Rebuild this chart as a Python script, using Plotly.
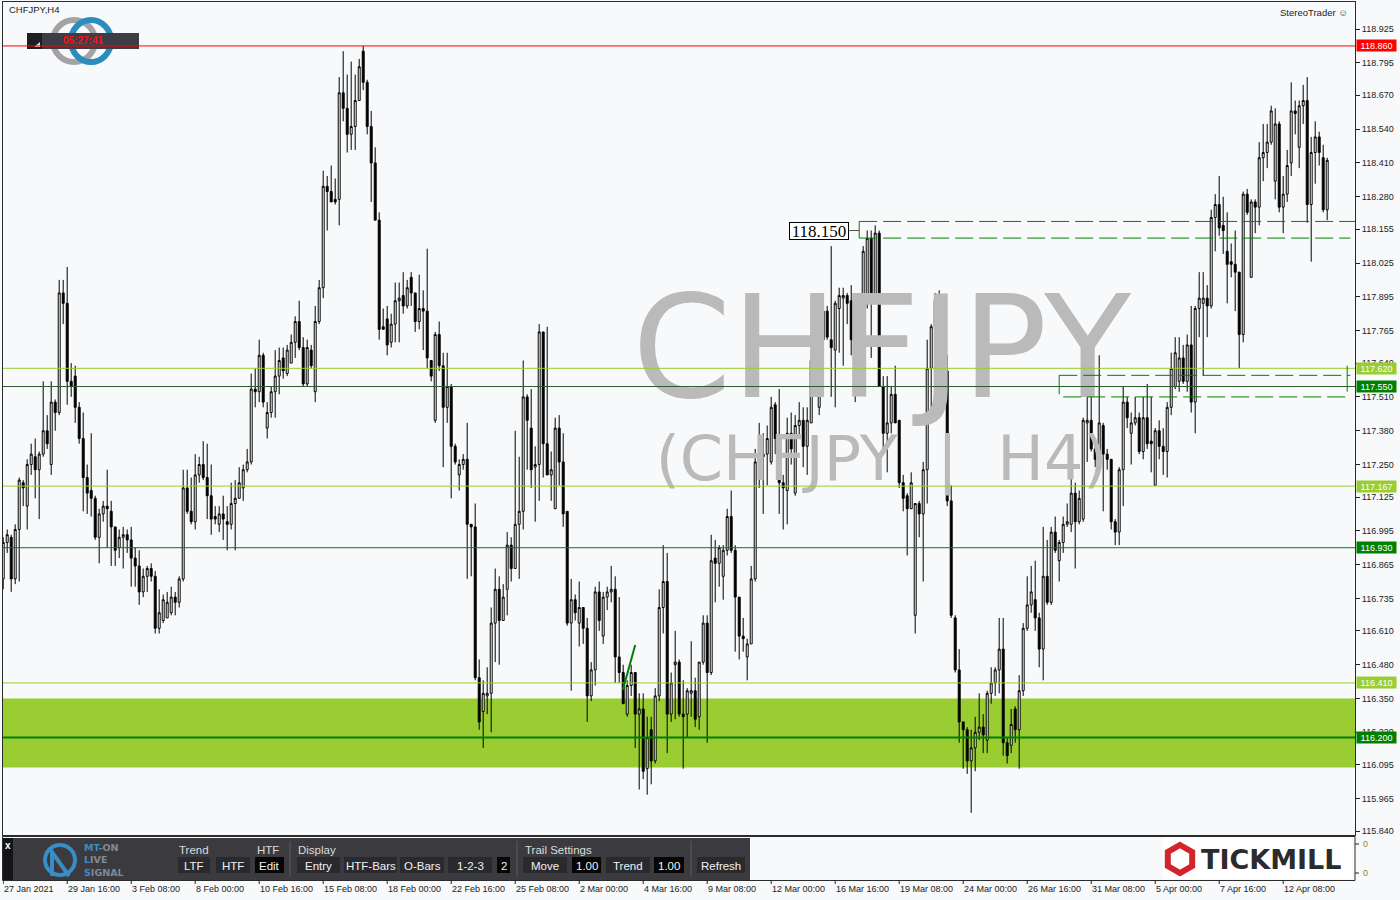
import plotly.graph_objects as go

# ---------------- data (CHFJPY, H4) ----------------
opens = [
116.81,116.95,116.97,116.81,117.00,117.18,117.09,117.25,117.28,117.23,
117.29,117.38,117.25,117.49,117.45,117.91,117.87,117.57,117.59,117.47,
117.35,117.20,117.15,117.12,116.97,117.06,117.09,117.07,117.01,116.93,
116.97,116.98,116.96,116.89,116.86,116.76,116.82,116.85,116.82,116.62,
116.65,116.66,116.68,116.74,116.72,116.81,117.16,117.07,117.03,117.21,
117.25,117.20,117.13,117.05,117.02,117.06,117.03,117.02,117.10,117.12,
117.16,117.23,117.26,117.54,117.53,117.67,117.39,117.45,117.53,117.59,
117.66,117.60,117.64,117.72,117.80,117.70,117.56,117.69,117.53,117.80,
117.93,118.32,118.30,118.27,118.27,118.68,118.62,118.52,118.55,118.65,
118.84,118.72,118.55,118.41,118.19,117.78,117.81,117.72,117.79,117.88,
117.90,117.86,117.97,117.91,117.80,117.85,117.84,117.65,117.42,117.75,
117.63,117.47,117.55,117.32,117.21,117.25,117.27,117.02,117.01,116.43,
116.30,116.36,116.37,116.64,116.77,116.65,116.77,116.94,116.85,117.02,
117.07,117.51,117.39,117.24,117.25,117.76,117.33,117.21,117.08,117.39,
117.26,117.07,116.64,116.73,116.64,116.70,116.62,116.36,116.46,116.76,
116.59,116.74,116.76,116.77,116.51,116.45,116.29,116.40,116.45,116.29,
116.31,116.08,116.23,116.11,116.36,116.70,116.80,116.29,116.48,116.49,
116.29,116.29,116.37,116.38,116.28,116.49,116.64,116.45,116.89,116.87,
116.82,116.92,117.05,116.92,116.74,116.59,116.51,116.56,116.81,117.26,
117.28,117.29,117.26,117.48,117.35,117.18,117.15,117.37,117.14,117.40,
117.42,117.32,117.41,117.64,117.47,117.73,117.84,117.73,117.69,117.85,
117.89,117.90,117.88,117.73,117.66,117.72,117.90,118.12,117.89,118.14,
117.55,117.37,117.41,117.52,117.42,117.18,117.13,117.08,116.67,117.10,
117.06,117.23,117.62,117.78,117.87,117.76,117.61,117.11,116.66,116.46,
116.26,116.23,116.11,116.16,116.22,116.24,116.19,116.37,116.41,116.46,
116.54,116.18,116.17,116.31,116.23,116.38,116.62,116.71,116.73,116.66,
116.54,116.82,116.72,116.99,116.88,116.95,117.02,117.02,117.14,117.03,
117.04,117.41,117.42,117.31,117.27,117.40,117.29,117.27,117.03,116.99,
117.23,117.49,117.37,117.41,117.43,117.30,117.43,117.34,117.17,117.38,
117.32,117.30,117.47,117.55,117.57,117.66,117.57,117.71,117.49,117.85,
117.87,117.89,117.86,118.20,118.25,118.17,118.07,118.03,118.02,117.99,
117.75,118.29,117.97,118.26,118.24,118.43,118.45,118.49,118.34,118.56,
118.24,118.29,118.41,118.61,118.47,118.63,118.65,118.25,118.45,118.51,
118.43,118.23]

highs = [
116.97,117.00,116.98,117.02,117.20,117.19,117.27,117.33,117.35,117.30,
117.57,117.44,117.57,117.50,117.96,117.96,118.01,117.64,117.63,117.49,
117.45,117.25,117.37,117.13,117.08,117.11,117.23,117.11,117.01,117.00,
117.01,117.00,117.01,116.93,116.92,116.85,116.86,116.87,116.84,116.77,
116.75,116.76,116.78,116.76,116.82,117.23,117.23,117.20,117.29,117.28,
117.34,117.33,117.25,117.09,117.09,117.13,117.09,117.18,117.19,117.24,
117.25,117.31,117.60,117.62,117.73,117.68,117.49,117.55,117.69,117.70,
117.70,117.71,117.75,117.82,117.88,117.74,117.73,117.71,117.86,117.96,
118.38,118.36,118.40,118.35,118.74,118.84,118.75,118.80,118.75,118.81,
118.86,118.73,118.61,118.47,118.22,117.85,117.86,117.83,117.95,117.95,
117.99,117.96,117.99,117.91,117.98,117.92,118.08,117.65,117.76,117.80,
117.68,117.68,117.56,117.33,117.27,117.29,117.41,117.02,117.10,116.50,
116.42,116.47,116.70,116.85,116.82,116.79,116.99,116.97,117.38,117.28,
117.65,117.52,117.54,117.32,117.79,117.76,117.78,117.30,117.43,117.44,
117.37,117.07,116.81,116.75,116.80,116.70,116.66,116.49,116.78,116.80,
116.76,116.78,116.86,116.82,116.74,116.48,116.42,116.48,116.45,116.37,
116.37,116.28,116.28,116.39,116.77,116.94,116.91,116.45,116.61,116.50,
116.42,116.39,116.57,116.43,116.49,116.67,116.67,116.98,116.96,116.94,
116.94,117.08,117.15,116.94,116.74,116.66,116.58,116.86,117.31,117.41,
117.37,117.40,117.51,117.49,117.54,117.21,117.43,117.45,117.44,117.49,
117.47,117.47,117.67,117.69,117.75,117.85,117.86,118.09,117.88,117.93,
117.93,117.91,117.94,117.78,117.85,118.09,118.15,118.15,118.17,118.15,
117.59,117.59,117.55,117.63,117.42,117.21,117.14,117.22,117.10,117.11,
117.26,117.73,117.79,117.91,117.92,117.77,117.67,117.17,116.67,116.54,
116.26,116.24,116.23,116.28,116.37,116.29,116.38,116.47,116.47,116.66,
116.66,116.20,116.31,116.32,116.44,116.64,116.82,116.86,116.88,116.68,
117.01,116.96,117.01,117.05,116.96,117.05,117.10,117.21,117.18,117.15,
117.43,117.51,117.56,117.33,117.67,117.41,117.31,117.27,117.04,117.24,
117.55,117.51,117.45,117.51,117.45,117.51,117.56,117.51,117.39,117.42,
117.39,117.49,117.68,117.74,117.74,117.71,117.75,117.86,117.86,117.99,
117.99,117.94,118.23,118.29,118.36,118.28,118.22,118.10,118.15,117.99,
118.30,118.31,118.27,118.27,118.49,118.56,118.56,118.63,118.62,118.57,
118.36,118.46,118.72,118.65,118.65,118.71,118.74,118.51,118.57,118.53,
118.48,118.43]

lows = [
116.77,116.91,116.76,116.79,116.80,117.09,117.00,117.21,117.12,117.04,
117.28,117.31,117.21,117.38,117.44,117.79,117.48,117.51,117.41,117.33,
117.07,117.06,117.05,116.96,116.87,117.03,116.93,116.86,116.86,116.89,
116.85,116.91,116.78,116.78,116.71,116.74,116.76,116.80,116.60,116.60,
116.64,116.66,116.67,116.67,116.70,116.80,117.06,117.02,117.00,117.18,
117.19,117.04,116.98,117.02,116.99,116.96,116.92,117.00,116.92,117.12,
117.11,117.22,117.25,117.47,117.49,117.47,117.35,117.43,117.43,117.52,
117.58,117.59,117.64,117.66,117.69,117.55,117.55,117.62,117.49,117.79,
117.89,118.15,118.26,118.25,118.17,118.57,118.45,118.46,118.46,118.65,
118.69,118.52,118.26,118.19,117.73,117.77,117.67,117.70,117.72,117.72,
117.83,117.85,117.86,117.76,117.77,117.69,117.62,117.57,117.41,117.61,
117.24,117.41,117.12,117.25,117.15,117.23,116.81,116.82,116.42,116.23,
116.16,116.29,116.22,116.49,116.48,116.65,116.67,116.80,116.85,116.81,
117.00,117.23,117.16,117.03,117.11,117.20,117.21,117.11,117.08,117.17,
117.01,116.63,116.38,116.65,116.55,116.56,116.26,116.34,116.40,116.61,
116.56,116.69,116.72,116.41,116.41,116.33,116.28,116.36,116.16,116.00,
116.04,115.98,116.02,116.10,116.34,116.60,116.14,116.26,116.27,116.28,
116.08,116.20,116.28,116.24,116.23,116.48,116.18,116.44,116.72,116.78,
116.73,116.90,116.91,116.53,116.50,116.53,116.42,116.56,116.80,117.16,
117.06,117.17,117.25,117.29,117.06,117.00,117.02,117.25,117.13,117.35,
117.24,117.21,117.41,117.62,117.44,117.71,117.73,117.51,117.47,117.68,
117.63,117.79,117.67,117.49,117.58,117.67,117.85,117.66,117.88,117.55,
117.29,117.22,117.37,117.41,117.16,117.07,116.90,117.08,116.60,116.97,
116.80,117.10,117.43,117.77,117.71,117.60,117.09,116.66,116.45,116.18,
116.08,116.06,115.91,116.07,116.19,116.14,116.14,116.33,116.36,116.37,
116.13,116.10,116.14,116.18,116.08,116.36,116.61,116.68,116.61,116.47,
116.42,116.71,116.71,116.91,116.80,116.91,117.01,116.99,116.85,117.02,
117.03,117.26,117.30,117.24,117.24,117.07,117.23,117.00,116.94,116.94,
117.09,117.39,117.25,117.40,117.29,117.27,117.31,117.22,117.17,117.27,
117.21,117.20,117.44,117.54,117.53,117.56,117.53,117.45,117.37,117.74,
117.59,117.74,117.85,118.07,118.13,118.06,117.87,117.97,117.84,117.62,
117.72,118.21,117.97,118.14,118.17,118.34,118.39,118.48,118.27,118.22,
118.14,118.26,118.36,118.52,118.39,118.56,118.18,118.03,118.33,118.40,
118.22,118.19]

closes = [
116.95,116.98,116.81,117.00,117.19,117.16,117.25,117.29,117.23,117.29,
117.38,117.33,117.49,117.45,117.91,117.87,117.57,117.55,117.47,117.35,
117.20,117.14,117.12,116.97,117.06,117.09,117.08,117.01,116.92,116.97,
116.98,116.96,116.89,116.86,116.76,116.82,116.85,116.82,116.62,116.68,
116.73,116.72,116.74,116.72,116.81,117.16,117.07,117.03,117.21,117.25,
117.20,117.13,117.04,117.04,117.06,117.04,117.02,117.10,117.12,117.18,
117.23,117.26,117.54,117.53,117.67,117.49,117.45,117.53,117.59,117.65,
117.61,117.69,117.72,117.80,117.70,117.56,117.70,117.63,117.80,117.93,
118.32,118.30,118.26,118.26,118.68,118.62,118.52,118.55,118.65,118.78,
118.72,118.55,118.41,118.19,117.77,117.77,117.71,117.79,117.88,117.89,
117.86,117.93,117.91,117.80,117.85,117.84,117.66,117.59,117.75,117.63,
117.47,117.55,117.32,117.26,117.25,117.27,117.02,117.01,116.43,116.26,
116.37,116.37,116.64,116.77,116.65,116.74,116.94,116.85,117.02,117.07,
117.51,117.42,117.23,117.25,117.76,117.33,117.21,117.23,117.39,117.26,
117.06,116.64,116.73,116.68,116.70,116.62,116.36,116.46,116.76,116.65,
116.74,116.76,116.77,116.51,116.45,116.33,116.40,116.45,116.29,116.31,
116.07,116.20,116.11,116.36,116.70,116.80,116.29,116.41,116.49,116.29,
116.28,116.38,116.38,116.27,116.49,116.64,116.45,116.88,116.87,116.93,
116.92,117.05,116.92,116.74,116.59,116.58,116.56,116.81,117.26,117.28,
117.29,117.35,117.47,117.35,117.18,117.16,117.37,117.31,117.40,117.42,
117.32,117.42,117.65,117.66,117.73,117.84,117.74,117.70,117.87,117.90,
117.90,117.87,117.73,117.66,117.72,118.07,118.12,117.88,118.14,117.55,
117.37,117.41,117.52,117.41,117.18,117.12,117.08,117.18,117.10,117.06,
117.23,117.62,117.78,117.88,117.75,117.61,117.11,116.67,116.46,116.26,
116.23,116.11,116.16,116.22,116.24,116.21,116.37,116.41,116.46,116.54,
116.18,116.13,116.25,116.23,116.38,116.62,116.71,116.76,116.66,116.54,
116.82,116.72,116.99,116.92,116.95,117.02,117.03,117.14,117.03,117.12,
117.42,117.42,117.31,117.27,117.41,117.29,117.27,117.03,116.99,117.23,
117.49,117.43,117.41,117.43,117.30,117.43,117.33,117.33,117.38,117.32,
117.30,117.47,117.62,117.68,117.66,117.57,117.71,117.49,117.85,117.89,
117.89,117.86,118.20,118.25,118.16,118.15,118.02,118.02,117.99,117.75,
118.29,118.22,118.26,118.24,118.43,118.45,118.49,118.61,118.56,118.24,
118.29,118.40,118.61,118.60,118.63,118.65,118.25,118.45,118.51,118.45,
118.23,118.42]

bars = list(range(len(opens)))

date_labels = ["27 Jan 2021", "29 Jan 16:00", "3 Feb 08:00", "8 Feb 00:00", "10 Feb 16:00",
               "15 Feb 08:00", "18 Feb 00:00", "22 Feb 16:00", "25 Feb 08:00", "2 Mar 00:00",
               "4 Mar 16:00", "9 Mar 08:00", "12 Mar 00:00", "16 Mar 16:00", "19 Mar 08:00",
               "24 Mar 00:00", "26 Mar 16:00", "31 Mar 08:00", "5 Apr 00:00", "7 Apr 16:00",
               "12 Apr 08:00"]
date_bars = [0, 16, 32, 48, 64, 80, 96, 112, 128, 144, 160, 176, 192, 208, 224, 240, 256,
             272, 288, 304, 320]

price_ticks = [118.925, 118.795, 118.670, 118.540, 118.410, 118.280, 118.155, 118.025,
               117.895, 117.765, 117.640, 117.510, 117.380, 117.250, 117.125, 116.995,
               116.865, 116.735, 116.610, 116.480, 116.350, 116.220, 116.095, 115.965, 115.840]

high_line = 118.860
light_levels = [117.620, 117.167, 116.410]
dark_levels = [117.550, 116.930, 116.200]
zone = [116.085, 116.350]
box_upper = [118.121, 118.185]
box_upper_label = 118.150
box_lower = [117.510, 117.593]
trend_x = [154.9, 158.0]
trend_y = [116.383, 116.556]

# ---------------- geometry helpers ----------------
W, H = 1400, 900
PL, PR, PT, PB = 3, 1355, 2, 835
XR = [-0.05, 337.95]


def fx(px):
    return (px - PL) / (PR - PL)


def fy(py):
    return (PB - py) / (PB - PT)


LG = '#9acd32'
DG = '#008000'
BG = '#f8f9fb'

fig = go.Figure()

# watermark (behind candles)
fig.add_trace(go.Scatter(x=[219.6], y=[117.645], mode='text', text=['CHFJPY'],
                         textfont=dict(family='DejaVu Sans', size=142, color='#bababa'),
                         hoverinfo='skip', showlegend=False))
fig.add_trace(go.Scatter(x=[219.6], y=[117.25], mode='text',
                         text=['(CHFJPY\u00a0\u00a0|\u00a0\u00a0H4)'],
                         textfont=dict(family='DejaVu Sans', size=62, color='#bababa'),
                         hoverinfo='skip', showlegend=False))

fig.add_trace(go.Candlestick(
    x=bars, open=opens, high=highs, low=lows, close=closes,
    increasing=dict(line=dict(color='black', width=1), fillcolor='white'),
    decreasing=dict(line=dict(color='black', width=1), fillcolor='black'),
    whiskerwidth=0, hoverinfo='none', showlegend=False))

shapes = []
ann = []

# zone (background)
shapes.append(dict(type='rect', xref='paper', yref='y', x0=0, x1=1, y0=zone[0], y1=zone[1],
                   fillcolor=LG, line=dict(width=0), layer='below'))

# horizontal levels
for v in light_levels:
    shapes.append(dict(type='line', xref='paper', yref='y', x0=0, x1=1, y0=v, y1=v,
                       line=dict(color=LG, width=1)))
shapes.append(dict(type='line', xref='paper', yref='y', x0=0, x1=1, y0=dark_levels[0], y1=dark_levels[0],
                   line=dict(color='#2e5a2e', width=1)))
shapes.append(dict(type='line', xref='paper', yref='y', x0=0, x1=1, y0=dark_levels[1], y1=dark_levels[1],
                   line=dict(color=DG, width=1)))
shapes.append(dict(type='line', xref='paper', yref='y', x0=0, x1=1, y0=dark_levels[2], y1=dark_levels[2],
                   line=dict(color=DG, width=2)))

# dashed boxes
dash = '18px,6px'
shapes.append(dict(type='line', xref='x', yref='y', x0=214, x1=XR[1], y0=box_upper[1], y1=box_upper[1],
                   line=dict(color=DG, width=1, dash=dash)))
shapes.append(dict(type='line', xref='x', yref='y', x0=214, x1=336.8, y0=box_upper[0], y1=box_upper[0],
                   line=dict(color=DG, width=1, dash=dash)))
shapes.append(dict(type='line', xref='x', yref='y', x0=214, x1=214, y0=box_upper[0], y1=box_upper[1],
                   line=dict(color=DG, width=1)))
shapes.append(dict(type='line', xref='x', yref='y', x0=211.5, x1=214, y0=box_upper_label, y1=box_upper_label,
                   line=dict(color='#555555', width=1)))
shapes.append(dict(type='line', xref='x', yref='y', x0=264, x1=336.8, y0=box_lower[1], y1=box_lower[1],
                   line=dict(color=DG, width=1, dash=dash)))
shapes.append(dict(type='line', xref='x', yref='y', x0=265, x1=335.5, y0=box_lower[0], y1=box_lower[0],
                   line=dict(color=DG, width=1, dash=dash)))
shapes.append(dict(type='line', xref='x', yref='y', x0=264, x1=264, y0=box_lower[0] + 0.01, y1=box_lower[1],
                   line=dict(color=DG, width=1)))
shapes.append(dict(type='line', xref='x', yref='y', x0=336, x1=336, y0=117.53, y1=117.63,
                   line=dict(color=DG, width=1)))
# small trend segment
shapes.append(dict(type='line', xref='x', yref='y', x0=trend_x[0], x1=trend_x[1], y0=trend_y[0], y1=trend_y[1],
                   line=dict(color=DG, width=2)))

# top-left logo rings and timer bar
shapes.append(dict(type='circle', xref='paper', yref='paper', x0=fx(53), x1=fx(95), y0=fy(62), y1=fy(20),
                   line=dict(color='#a3a3a3', width=6)))
shapes.append(dict(type='circle', xref='paper', yref='paper', x0=fx(71), x1=fx(111), y0=fy(62), y1=fy(20),
                   line=dict(color='#2a8cbf', width=6)))
shapes.append(dict(type='rect', xref='paper', yref='paper', x0=fx(27), x1=fx(139), y0=fy(49), y1=fy(33),
                   fillcolor='#3e3d45', line=dict(width=0)))
shapes.append(dict(type='rect', xref='paper', yref='paper', x0=fx(27), x1=fx(42), y0=fy(49), y1=fy(33),
                   fillcolor='#1e1e22', line=dict(width=0)))
shapes.append(dict(type='path', xref='paper', yref='paper',
                   path=f'M {fx(34)},{fy(47)} L {fx(40)},{fy(47)} L {fx(40)},{fy(42)} Z',
                   fillcolor='#dddddd', line=dict(width=0)))
# red high line above the bar
shapes.append(dict(type='line', xref='paper', yref='y', x0=0, x1=1, y0=high_line, y1=high_line,
                   line=dict(color='#ff0000', width=1)))

# ---------- bottom panel ----------
shapes.append(dict(type='rect', xref='paper', yref='paper', x0=fx(2.5), x1=fx(1355), y0=fy(880.5), y1=fy(836.5),
                   fillcolor=BG, line=dict(color='#2b2b2b', width=1)))
shapes.append(dict(type='rect', xref='paper', yref='paper', x0=fx(3), x1=fx(750), y0=fy(880), y1=fy(838),
                   fillcolor='#3b3a3f', line=dict(width=0)))
shapes.append(dict(type='rect', xref='paper', yref='paper', x0=fx(3), x1=fx(13), y0=fy(880), y1=fy(838),
                   fillcolor='#141416', line=dict(width=0)))
for sx in [290, 517, 691]:
    shapes.append(dict(type='line', xref='paper', yref='paper', x0=fx(sx), x1=fx(sx), y0=fy(877), y1=fy(841),
                       line=dict(color='#5c5b60', width=1)))
btn = '#2a292e'
blk = '#060606'
buttons = [(178, 210, 'LTF', btn), (216, 250, 'HTF', btn), (255, 284, 'Edit', blk),
           (297, 340, 'Entry', btn), (344, 397, 'HTF-Bars', btn), (400, 444, 'O-Bars', btn),
           (448, 492, '1-2-3', btn), (497, 510, '2', blk), (523, 567, 'Move', btn),
           (572, 601, '1.00', blk), (606, 650, 'Trend', btn), (654, 684, '1.00', blk),
           (697, 745, 'Refresh', btn)]
for x0, x1, t, c in buttons:
    shapes.append(dict(type='rect', xref='paper', yref='paper', x0=fx(x0), x1=fx(x1), y0=fy(873), y1=fy(857),
                       fillcolor=c, line=dict(width=0)))
    ann.append(dict(x=fx((x0 + x1) / 2), y=fy(865.5), xref='paper', yref='paper', text=t, showarrow=False,
                    xanchor='center', yanchor='middle',
                    font=dict(family='Liberation Sans', size=11.5, color='#f2f2f2')))
for t, px in [('Trend', 177), ('HTF', 255), ('Display', 296), ('Trail Settings', 523)]:
    ann.append(dict(x=fx(px), y=fy(849.5), xref='paper', yref='paper', text=t, showarrow=False,
                    xanchor='left', yanchor='middle',
                    font=dict(family='Liberation Sans', size=11.5, color='#dcdcdc')))
ann.append(dict(x=fx(8), y=fy(845), xref='paper', yref='paper', text='<b>x</b>', showarrow=False,
                xanchor='center', yanchor='middle', font=dict(family='Liberation Sans', size=10, color='white')))
# MT-ON logo
shapes.append(dict(type='circle', xref='paper', yref='paper', x0=fx(45), x1=fx(75), y0=fy(875), y1=fy(845),
                   line=dict(color='#3a8cc4', width=4)))
shapes.append(dict(type='path', xref='paper', yref='paper',
                   path=f'M {fx(52)},{fy(876)} L {fx(52)},{fy(852)} L {fx(69)},{fy(876)}',
                   line=dict(color='#3a8cc4', width=4)))
blue, grey = '#3a8cc4', '#7e8b96'
logo_lines = [('MT', '-ON'), ('L', 'IVE'), ('S', 'IGNAL')]
logo_text = '<br>'.join(f"<b><span style='color:{blue}'>{a}</span><span style='color:{grey}'>{b}</span></b>"
                        for a, b in logo_lines)
ann.append(dict(x=fx(82), y=fy(860), xref='paper', yref='paper', showarrow=False, xanchor='left',
                yanchor='middle', align='left', text=logo_text,
                font=dict(family='DejaVu Sans', size=9.5)))
# TICKMILL
shapes.append(dict(type='rect', xref='paper', yref='paper', x0=fx(1163), x1=fx(1352), y0=fy(879), y1=fy(838),
                   fillcolor='white', line=dict(width=0)))
cx, cy, r = 1180, 859, 14
hexp = [(cx, cy - r), (cx + r * 0.87, cy - r / 2), (cx + r * 0.87, cy + r / 2), (cx, cy + r),
        (cx - r * 0.87, cy + r / 2), (cx - r * 0.87, cy - r / 2)]
shapes.append(dict(type='path', xref='paper', yref='paper',
                   path='M ' + ' L '.join(f'{fx(a)},{fy(b)}' for a, b in hexp) + ' Z',
                   line=dict(color='#d4242b', width=6)))
ann.append(dict(x=fx(1271), y=fy(859), xref='paper', yref='paper', text='<b>TICKMILL</b>', showarrow=False,
                xanchor='center', yanchor='middle', font=dict(family='DejaVu Sans', size=27, color='#2b2b2b')))
# sub-panel axis
for py in [844, 873]:
    shapes.append(dict(type='line', xref='paper', yref='paper', x0=fx(1355), x1=fx(1359), y0=fy(py), y1=fy(py),
                       line=dict(color='#222', width=1)))
    ann.append(dict(x=fx(1361), y=fy(py), xref='paper', yref='paper', text='0', showarrow=False,
                    xanchor='left', yanchor='middle', font=dict(family='Liberation Sans', size=9, color='#a07a2c')))

# date axis labels
for b, t in zip(date_bars, date_labels):
    shapes.append(dict(type='line', xref='x', yref='paper', x0=b, x1=b, y0=fy(880), y1=fy(884),
                       line=dict(color='#222', width=1)))
    ann.append(dict(x=b, y=fy(888.5), xref='x', yref='paper', text=t, showarrow=False, xanchor='left',
                    xshift=-1, yanchor='middle', font=dict(family='Liberation Sans', size=9, color='#222')))

# price labels on axis
for v, c in [(high_line, '#ff0000'), (light_levels[0], LG), (dark_levels[0], DG), (light_levels[1], LG),
             (dark_levels[1], DG), (light_levels[2], LG), (dark_levels[2], DG)]:
    ann.append(dict(x=1, xref='paper', xanchor='left', xshift=1, y=v, yref='y', yanchor='middle',
                    text=f'{v:.3f}', showarrow=False, bgcolor=c, width=39, height=11, borderpad=0,
                    font=dict(family='Liberation Sans', size=9, color='white')))

# label box 118.150
ann.append(dict(x=204, y=box_upper_label, xref='x', yref='y', text=f'{box_upper_label:.3f}', showarrow=False,
                xanchor='center', yanchor='middle', bgcolor='white', bordercolor='black', borderwidth=1,
                borderpad=0, width=58, height=16,
                font=dict(family='Liberation Serif', size=17, color='black')))

# titles
ann.append(dict(x=fx(7), y=fy(10), xref='paper', yref='paper', text='CHFJPY,H4', showarrow=False,
                xanchor='left', yanchor='middle', font=dict(family='Liberation Sans', size=9.5, color='#222')))
ann.append(dict(x=fx(1350), y=fy(12), xref='paper', yref='paper', text='StereoTrader \u263a', showarrow=False,
                xanchor='right', yanchor='middle', font=dict(family='Liberation Sans', size=9.5, color='#222')))
ann.append(dict(x=fx(83), y=fy(41), xref='paper', yref='paper', text='<b>05:27:41</b>', showarrow=False,
                xanchor='center', yanchor='middle', font=dict(family='Liberation Sans', size=10, color='#ff1010')))

fig.update_layout(
    width=W, height=H,
    margin=dict(l=PL, r=W - PR, t=PT, b=H - PB, pad=0),
    paper_bgcolor=BG, plot_bgcolor=BG,
    showlegend=False, hovermode=False,
    shapes=shapes, annotations=ann,
    xaxis=dict(range=XR, showticklabels=False, ticks='', showgrid=False, zeroline=False,
               showline=True, linecolor='#2b2b2b', linewidth=1, mirror=True,
               rangeslider=dict(visible=False), fixedrange=True),
    yaxis=dict(range=[115.825, 119.029], side='right', tickmode='array', tickvals=price_ticks,
               ticktext=[f'{v:.3f}' for v in price_ticks], ticks='outside', ticklen=4, tickcolor='#222',
               tickfont=dict(family='Liberation Sans', size=9, color='#222'),
               showgrid=False, zeroline=False, showline=True, linecolor='#2b2b2b', linewidth=1, mirror=True,
               fixedrange=True),
)

fig.write_html('out.html', config={'displayModeBar': False},
               post_script="document.body.style.margin='0px';document.body.style.background='#f8f9fb';")
